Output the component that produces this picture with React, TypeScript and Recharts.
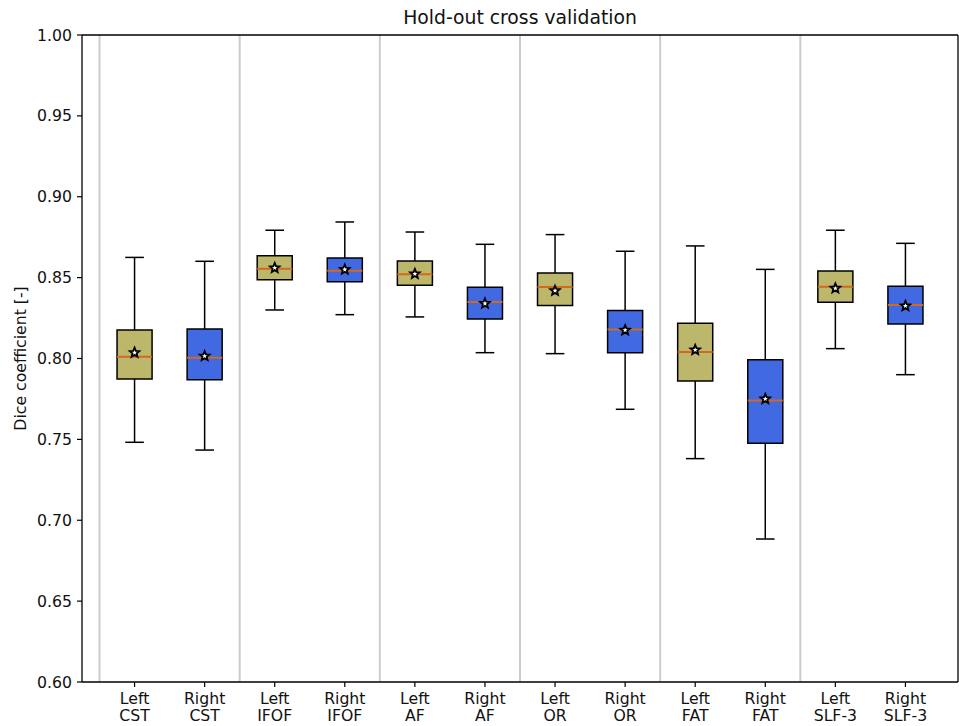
import React from 'react';
import {
  ComposedChart,
  XAxis,
  YAxis,
  Scatter,
  ReferenceLine,
  ReferenceArea,
} from 'recharts';

// ---- data ----
const sides = ['Left', 'Right', 'Left', 'Right', 'Left', 'Right', 'Left', 'Right', 'Left', 'Right', 'Left', 'Right'];
const tracts = ['CST', 'CST', 'IFOF', 'IFOF', 'AF', 'AF', 'OR', 'OR', 'FAT', 'FAT', 'SLF-3', 'SLF-3'];
const whiskerLow = [0.7482, 0.7434, 0.83, 0.8271, 0.8257, 0.8036, 0.803, 0.7686, 0.7381, 0.6884, 0.8061, 0.79];
const q1 = [0.7873, 0.7869, 0.8487, 0.8475, 0.8453, 0.8244, 0.8327, 0.8036, 0.7861, 0.7476, 0.8347, 0.8213];
const medians = [0.8011, 0.8005, 0.8555, 0.8543, 0.8521, 0.8349, 0.8442, 0.818, 0.804, 0.7741, 0.8444, 0.8331];
const q3 = [0.8176, 0.8182, 0.8636, 0.8621, 0.8603, 0.844, 0.8529, 0.8296, 0.8218, 0.7993, 0.8541, 0.8446];
const whiskerHigh = [0.8625, 0.8601, 0.8793, 0.8844, 0.8782, 0.8706, 0.8766, 0.8663, 0.8696, 0.8551, 0.8793, 0.8712];
const means = [0.8036, 0.8015, 0.856, 0.855, 0.8523, 0.834, 0.8419, 0.8175, 0.8053, 0.775, 0.8434, 0.8325];
const yTicks = [0.6, 0.65, 0.7, 0.75, 0.8, 0.85, 0.9, 0.95, 1.0];
const groupSeparators = [-0.5, 1.5, 3.5, 5.5, 7.5, 9.5];
const xDomain: [number, number] = [-0.75, 11.75];
const yDomain: [number, number] = [0.6, 1.0];

const LEFT_COLOR = '#BDB76B';
const RIGHT_COLOR = '#4169E1';
const MEDIAN_COLOR = '#D2691E';
const TEXT_COLOR = '#111';
const FONT = 'DejaVu Sans, sans-serif';
const BOX_HALF = 0.25;
const CAP_HALF = 0.133;

const xIdx = sides.map((_, i) => i);
const meanData = means.map((m, i) => ({ x: i, y: m }));

const StarShape = (props: any) => {
  const { cx, cy } = props;
  if (cx == null || cy == null) return null;
  const R = 5;
  const r = 2.2;
  const pts: string[] = [];
  for (let k = 0; k < 10; k++) {
    const rad = k % 2 === 0 ? R : r;
    const a = -Math.PI / 2 + (k * Math.PI) / 5;
    pts.push(`${cx + rad * Math.cos(a)},${cy + rad * Math.sin(a)}`);
  }
  return <polygon points={pts.join(' ')} fill="#ffffff" stroke="#000" strokeWidth={1.8} strokeLinejoin="miter" />;
};

const XTick = (props: any) => {
  const { x, y, payload } = props;
  const i = payload.value;
  return (
    <text x={x} y={y} textAnchor="middle" fontFamily={FONT} fontSize={15.7} fill={TEXT_COLOR}>
      <tspan x={x} dy="0.95em">{sides[i]}</tspan>
      <tspan x={x} dy="1.12em">{tracts[i]}</tspan>
    </text>
  );
};

const TitleLabel = (p: any) => {
  const vb = p.viewBox || {};
  return (
    <text
      x={vb.x + vb.width / 2}
      y={vb.y - 10}
      textAnchor="middle"
      fontFamily={FONT}
      fontSize={18.8}
      fill={TEXT_COLOR}
    >
      Hold-out cross validation
    </text>
  );
};

const YLabel = (p: any) => {
  const vb = p.viewBox || {};
  const cx = vb.x - 2;
  const cy = vb.y + vb.height / 2;
  return (
    <text
      x={cx}
      y={cy}
      transform={`rotate(-90, ${cx}, ${cy})`}
      textAnchor="middle"
      dominantBaseline="central"
      fontFamily={FONT}
      fontSize={15.7}
      fill={TEXT_COLOR}
    >
      Dice coefficient [-]
    </text>
  );
};

export default function App() {
  return (
    <div style={{ position: 'absolute', left: 0, top: 0, width: 959, height: 726, background: '#fff' }}>
      <ComposedChart width={959} height={726} margin={{ top: 34, right: 1, bottom: 0, left: 22 }}>
        <XAxis
          dataKey="x"
          type="number"
          domain={xDomain}
          ticks={xIdx}
          interval={0}
          tick={<XTick />}
          tickSize={5}
          height={44}
          axisLine={{ stroke: '#000', strokeWidth: 1.3 }}
          tickLine={{ stroke: '#000', strokeWidth: 1.2 }}
          allowDataOverflow
        />
        <XAxis
          xAxisId="top"
          orientation="top"
          type="number"
          domain={xDomain}
          ticks={[]}
          tick={false}
          tickLine={false}
          height={1}
          axisLine={{ stroke: '#000', strokeWidth: 1.3 }}
          label={<TitleLabel />}
        />
        <YAxis
          type="number"
          domain={yDomain}
          ticks={yTicks}
          interval={0}
          width={60}
          tickSize={5}
          tickMargin={5}
          tickFormatter={(v: number) => v.toFixed(2)}
          tick={{ fontFamily: FONT, fontSize: 15.7, fill: TEXT_COLOR }}
          axisLine={{ stroke: '#000', strokeWidth: 1.3 }}
          tickLine={{ stroke: '#000', strokeWidth: 1.2 }}
          allowDataOverflow
          label={<YLabel />}
        />

        {groupSeparators.map((s) => (
          <ReferenceLine key={`sep-${s}`} x={s} stroke="#cccccc" strokeWidth={2} />
        ))}
        <ReferenceLine x={xDomain[1]} stroke="#000" strokeWidth={1.3} />

        {xIdx.map((i) => (
          <ReferenceLine
            key={`wl-${i}`}
            segment={[{ x: i, y: whiskerLow[i] }, { x: i, y: q1[i] }]}
            stroke="#000"
            strokeWidth={1.5}
          />
        ))}
        {xIdx.map((i) => (
          <ReferenceLine
            key={`wh-${i}`}
            segment={[{ x: i, y: q3[i] }, { x: i, y: whiskerHigh[i] }]}
            stroke="#000"
            strokeWidth={1.5}
          />
        ))}
        {xIdx.map((i) => (
          <ReferenceLine
            key={`cl-${i}`}
            segment={[{ x: i - CAP_HALF, y: whiskerLow[i] }, { x: i + CAP_HALF, y: whiskerLow[i] }]}
            stroke="#000"
            strokeWidth={1.5}
          />
        ))}
        {xIdx.map((i) => (
          <ReferenceLine
            key={`ch-${i}`}
            segment={[{ x: i - CAP_HALF, y: whiskerHigh[i] }, { x: i + CAP_HALF, y: whiskerHigh[i] }]}
            stroke="#000"
            strokeWidth={1.5}
          />
        ))}
        {xIdx.map((i) => (
          <ReferenceArea
            key={`box-${i}`}
            x1={i - BOX_HALF}
            x2={i + BOX_HALF}
            y1={q1[i]}
            y2={q3[i]}
            fill={i % 2 === 0 ? LEFT_COLOR : RIGHT_COLOR}
            fillOpacity={1}
            stroke="#000"
            strokeWidth={1.5}
          />
        ))}
        {xIdx.map((i) => (
          <ReferenceLine
            key={`med-${i}`}
            segment={[{ x: i - BOX_HALF, y: medians[i] }, { x: i + BOX_HALF, y: medians[i] }]}
            stroke={MEDIAN_COLOR}
            strokeWidth={2}
          />
        ))}

        <Scatter data={meanData} dataKey="y" shape={<StarShape />} isAnimationActive={false} />
      </ComposedChart>
    </div>
  );
}
